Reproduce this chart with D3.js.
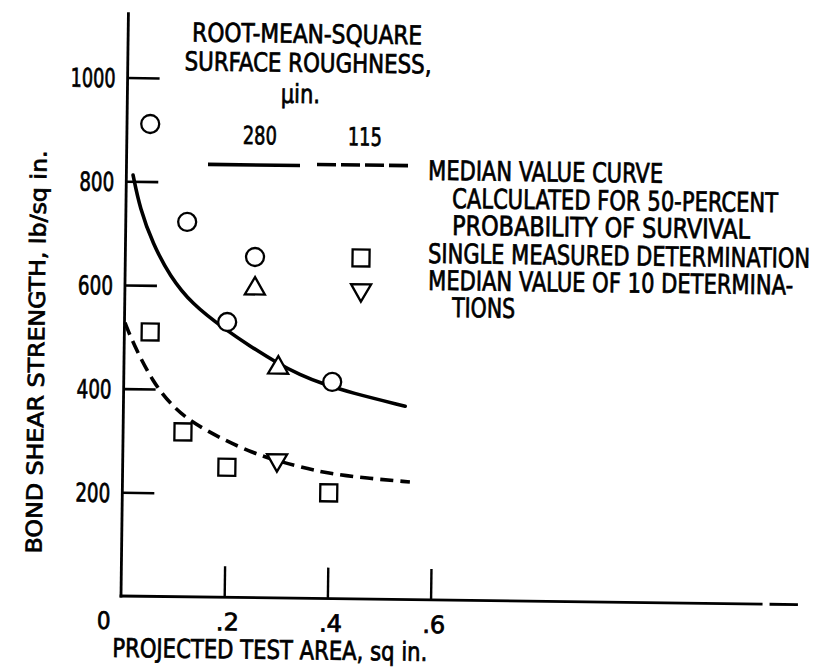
<!DOCTYPE html>
<html>
<head>
<meta charset="utf-8">
<script src="https://cdn.jsdelivr.net/npm/d3@7"></script>
<style>
  body { margin: 0; background: #fff; }
  svg text { font-family: "Liberation Sans Narrow", "Arial Narrow", "DejaVu Sans Condensed", sans-serif; fill: #000; stroke: #000; stroke-width: 0.7px; }
</style>
</head>
<body>
<svg id="chart" width="817" height="670"></svg>
<script>
// Bond shear strength against projected test area, two surface roughnesses.

// Single measured determinations, 280 µin. (circles)
const single280Area = [0.045, 0.119, 0.199, 0.404];
const single280Strength = [911, 723, 531, 418];
// Median of 10 determinations, 280 µin. (upward triangle)
const median280Area = [0.299];
const median280Strength = [444];
// Single measured determinations, 115 µin. (squares)
const single115Area = [0.050, 0.116, 0.202, 0.400];
const single115Strength = [510, 318, 251, 204];
// Median of 10 determinations, 115 µin. (downward triangle)
const median115Area = [0.299];
const median115Strength = [266];

// Median value curves, 50-percent probability of survival
const curve280Area = [0.013, 0.027, 0.053, 0.087, 0.130, 0.195, 0.244, 0.297, 0.341, 0.386, 0.439, 0.546];
const curve280Strength = [812, 748, 680, 618, 565, 517, 485, 453, 431, 414, 398, 373];
const curve115Area = [0.001, 0.017, 0.057, 0.096, 0.133, 0.188, 0.252, 0.299, 0.344, 0.396, 0.474, 0.557];
const curve115Strength = [527, 488, 412, 366, 337, 307, 279, 265, 253, 242, 233, 227];

const xTicks = [0.2, 0.4, 0.6];
const xTickLabels = [".2", ".4", ".6"];
const yTicks = [200, 400, 600, 800, 1000];
const yAxisTop = 1126;
const roughnessLabels = ["280", "115"];
const legendTitle = ["ROOT-MEAN-SQUARE", "SURFACE ROUGHNESS,", "\u00b5in."];
const legendText = [
  "MEDIAN VALUE CURVE",
  "CALCULATED FOR 50-PERCENT",
  "PROBABILITY OF SURVIVAL",
  "SINGLE MEASURED DETERMINATION",
  "MEDIAN VALUE OF 10 DETERMINA-",
  "TIONS"
];

const zip = (a, b) => a.map((v, i) => [v, b[i]]);

const svg = d3.select("#chart");
const x = d3.scaleLinear().domain([0, 0.6]).range([121, 430.6]);
const y = d3.scaleLinear().domain([0, 1000]).range([596, 77.5]);

// the whole sheet sits slightly askew
const tilt = 0.73;
const g = svg.append("g").attr("transform", `rotate(${tilt},${x(0)},${y(0)})`);

// ---- axes ----
const yAxis = d3.axisLeft(y).tickValues(yTicks).tickSizeInner(-32).tickSizeOuter(0)
  .tickPadding(12).tickFormat(d3.format("d"));
const gy = g.append("g").attr("transform", `translate(${x(0)},0)`).call(yAxis);
gy.select(".domain").remove();
gy.selectAll(".tick line").attr("stroke", "#000").attr("stroke-width", 2.6);
gy.selectAll(".tick text").attr("font-size", 26).attr("dy", "0.36em")
  .attr("textLength", d => d >= 1000 ? 45 : 35).attr("lengthAdjust", "spacingAndGlyphs");

const xAxis = d3.axisBottom(x).tickValues(xTicks).tickSizeInner(-31).tickSizeOuter(0)
  .tickPadding(16).tickFormat((d, i) => xTickLabels[i]);
const gx = g.append("g").attr("transform", `translate(0,${y(0)})`).call(xAxis);
gx.select(".domain").remove();
gx.selectAll(".tick line").attr("stroke", "#000").attr("stroke-width", 2.4);
gx.selectAll(".tick text").attr("font-size", 24).attr("dx", 3)
  .attr("textLength", 23).attr("lengthAdjust", "spacingAndGlyphs");

g.append("line")
  .attr("x1", x(0)).attr("x2", x(0))
  .attr("y1", y(0) + 1.4).attr("y2", y(yAxisTop))
  .attr("stroke", "#000").attr("stroke-width", 2.8);
g.append("line")
  .attr("x1", x(0) - 1.4).attr("x2", 798)
  .attr("y1", y(0)).attr("y2", y(0))
  .attr("stroke", "#000").attr("stroke-width", 2.8)
  .attr("stroke-dasharray", "643,7,40");

g.append("text").attr("x", x(0) - 17).attr("y", 629)
  .attr("text-anchor", "middle").attr("font-size", 24).text("0");

g.append("text").attr("x", 113).attr("y", 657)
  .attr("font-size", 26).attr("textLength", 315).attr("lengthAdjust", "spacingAndGlyphs")
  .text("PROJECTED TEST AREA, sq in.");
g.append("text").attr("transform", "translate(41,353) rotate(-90)")
  .attr("text-anchor", "middle").attr("font-size", 22)
  .attr("textLength", 403).attr("lengthAdjust", "spacingAndGlyphs")
  .text("BOND SHEAR STRENGTH, lb/sq in.");

// ---- curves ----
const line = d3.line().x(d => x(d[0])).y(d => y(d[1])).curve(d3.curveBasis);
g.append("path").datum(zip(curve280Area, curve280Strength))
  .attr("d", line).attr("fill", "none").attr("stroke", "#000")
  .attr("stroke-width", 3.6).attr("stroke-linecap", "round");
g.append("path").datum(zip(curve115Area, curve115Strength))
  .attr("d", line).attr("fill", "none").attr("stroke", "#000")
  .attr("stroke-width", 3.6).attr("stroke-dasharray", "13,7");

// ---- markers ----
const markerStyle = sel => sel.attr("fill", "#fff").attr("stroke", "#000").attr("stroke-width", 2.3);
const triUp = d3.symbol().type(d3.symbolTriangle).size(175);
const square = d3.symbol().type(d3.symbolSquare).size(289);

function circles(parent, pts) {
  parent.selectAll(null).data(pts).join("circle")
    .attr("cx", d => d[0]).attr("cy", d => d[1]).attr("r", 9).call(markerStyle);
}
function squares(parent, pts) {
  parent.selectAll(null).data(pts).join("path")
    .attr("d", square).attr("transform", d => `translate(${d[0]},${d[1]})`).call(markerStyle);
}
function triangles(parent, pts, down) {
  parent.selectAll(null).data(pts).join("path")
    .attr("d", triUp)
    .attr("transform", d => `translate(${d[0]},${d[1]})${down ? " rotate(180)" : ""}`)
    .call(markerStyle);
}
const toPx = (a, s) => zip(a, s).map(d => [x(d[0]), y(d[1])]);
const gm = g.append("g");
circles(gm, toPx(single280Area, single280Strength));
triangles(gm, toPx(median280Area, median280Strength), false);
squares(gm, toPx(single115Area, single115Strength));
triangles(gm, toPx(median115Area, median115Strength), true);

// ---- legend ----
const lg = g.append("g");
const titleLayout = [[300, 40.6, 230], [301.3, 69.6, 247], [294, 100.7, 39]];
legendTitle.forEach((t, i) => {
  lg.append("text").attr("x", titleLayout[i][0]).attr("y", titleLayout[i][1])
    .attr("text-anchor", "middle").attr("font-size", 26)
    .attr("textLength", titleLayout[i][2]).attr("lengthAdjust", "spacingAndGlyphs").text(t);
});
const colX = [254, 359];
roughnessLabels.forEach((t, i) => {
  lg.append("text").attr("x", colX[i]).attr("y", 142.5).attr("text-anchor", "middle")
    .attr("font-size", 25).attr("textLength", 34).attr("lengthAdjust", "spacingAndGlyphs").text(t);
});
lg.append("line").attr("x1", 202.5).attr("x2", 294.5).attr("y1", 163.3).attr("y2", 163.3)
  .attr("stroke", "#000").attr("stroke-width", 3.6);
lg.append("line").attr("x1", 311.5).attr("x2", 404.5).attr("y1", 162).attr("y2", 162)
  .attr("stroke", "#000").attr("stroke-width", 3.6).attr("stroke-dasharray", "19,5");
circles(lg, [[250.7, 255.3]]);
triangles(lg, [[251, 287]], false);
squares(lg, [[356.7, 254.9]]);
triangles(lg, [[357.1, 287]], true);

const textLayout = [
  [422.7, 176, 235], [447, 203.8, 326], [447.4, 230.8, 298],
  [423.7, 259, 382], [424.1, 286, 365], [448.4, 312.8, 63]
];
legendText.forEach((t, i) => {
  lg.append("text").attr("x", textLayout[i][0]).attr("y", textLayout[i][1])
    .attr("font-size", 27).attr("textLength", textLayout[i][2])
    .attr("lengthAdjust", "spacingAndGlyphs").text(t);
});
</script>
</body>
</html>
